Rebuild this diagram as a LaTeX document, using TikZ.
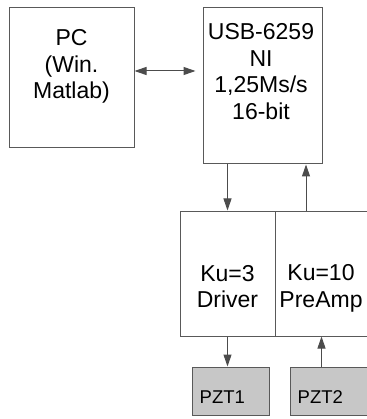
\documentclass[tikz,border=0pt]{standalone}
\usepackage{fontspec}
\setmainfont{Liberation Sans}
\usetikzlibrary{arrows.meta, positioning}

\begin{document}
\begin{tikzpicture}[
  >={Triangle[length=12pt,width=8pt]},
  x=1pt, y=-1pt, % pixel grid, y grows downwards
  blockbox/.style={draw=black!65, line width=1pt, fill=white, inner sep=0pt},
  pztbox/.style={draw=black!65, line width=1pt, fill=black!22, inner sep=0pt},
  btext/.style={align=center, font=\fontsize{23}{26.5}\selectfont, inner sep=0pt},
  ptext/.style={anchor=base west, font=\fontsize{18.5}{20}\selectfont, inner sep=0pt},
  link/.style={draw=black!70, line width=1pt}
]
  \useasboundingbox (0,0) rectangle (366,419);

  % blocks
  \node[blockbox, minimum width=125pt, minimum height=140pt] (pc) at (71.5,78) {};
  \node[blockbox, minimum width=119pt, minimum height=156pt] (usb) at (262.5,86) {};
  \node[blockbox, minimum width=95pt, minimum height=125pt] (drv) at (227.5,273.5) {};
  \node[blockbox, minimum width=100pt, minimum height=125pt] (pre) at (325,273.5) {};
  \node[pztbox, minimum width=77pt, minimum height=48pt] (pzt1) at (230.5,391) {};
  \node[pztbox, minimum width=84pt, minimum height=48pt] (pzt2) at (332,391) {};

  % texts
  \node[btext] (pctxt) at (71.5,66.5) {PC\\(Win.\\Matlab)};
  \node[btext] (usbtxt) at (261,71.5) {USB-6259\\NI\\1,25Ms/s\\16-bit};
  \node[btext] (drvtxt) at (227.5,286.5) {Ku=3\\Driver};
  \node[btext] (pretxt) at (321,288.5) {Ku=10\\PreAmp};
  \node[ptext] (p1txt) at ([xshift=8pt,yshift=-12pt]pzt1.west) {PZT1};
  \node[ptext] (p2txt) at ([xshift=8pt,yshift=-12pt]pzt2.west) {PZT2};

  % connections
  \draw[link, <->, shorten >=7pt] ([yshift=7pt]pc.east) -- ([yshift=7pt]pc.east -| usb.west);
  \draw[link, ->] (drv.north |- usb.south) -- (drv.north);
  \draw[link, ->] ([xshift=-19pt]pre.north) -- ([xshift=-19pt]pre.north |- usb.south);
  \draw[link, ->] (drv.south) -- (drv.south |- pzt1.north);
  \draw[link, ->] ([xshift=-3.5pt]pre.south |- pzt2.north) -- ([xshift=-3.5pt]pre.south);
\end{tikzpicture}
\end{document}
